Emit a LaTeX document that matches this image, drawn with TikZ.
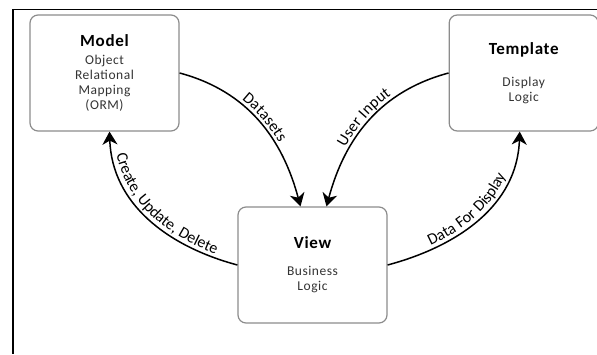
\documentclass[tikz,border=0pt]{standalone}
\usepackage{fontspec}
\setmainfont{Carlito}[LetterSpace=4]
\usepackage{tikz}
\usetikzlibrary{arrows.meta,positioning,decorations.text}

\newcommand\boxtitle[1]{{\fontsize{17}{19}\selectfont\bfseries\color{black}#1}}
\newcommand\lblfont{\fontsize{16}{18}\selectfont}

\begin{document}
\begin{tikzpicture}[
  x=1pt, y=1pt, font=\fontsize{13.5}{15}\selectfont,
  box/.style={rectangle,rounded corners=8pt,draw=black!45,line width=1.2pt,text=black!80,
              align=center,minimum width=149pt,minimum height=116pt,inner sep=0pt},
  flow/.style={-{Stealth[length=13pt,width=15pt,inset=4pt]},line width=1.5pt},
  flowback/.style={{Stealth[length=13pt,width=15pt,inset=4pt]}-,line width=1.5pt},
  tag/.style={postaction={decorate},
              decoration={text along path,text align=center,raise=4pt,
                          text={|\lblfont|#1}}}]
\useasboundingbox (0,0) rectangle (597,354);
% frame
\draw[line width=1.6pt] (597,344.5) -- (13,344.5) -- (13,0);
\node[box] (model) at (104.5,281) {\boxtitle{Model}\\[3pt]Object\\Relational\\Mapping\\(ORM)};
\node[box,right=269pt of model] (template) {\boxtitle{Template}\\[17pt]Display\\Logic};
\node[box] (view) at (312.5,89) {\boxtitle{View}\\[12pt]Business\\Logic};
% connectors
\draw[flow,tag={Datasets}] (model.east) to[out=-15,in=105] ([xshift=-12pt]view.north);
\draw[flowback,tag={User Input}] ([xshift=14pt]view.north) to[out=75,in=195] (template.west);
\draw[flowback,tag={Create, Update, Delete}] ([xshift=5pt]model.south) to[out=-88,in=165] (view.west);
\draw[flow,tag={Data For Display}] (view.east) to[out=15,in=-92] ([xshift=-4pt]template.south);
\end{tikzpicture}
\end{document}
